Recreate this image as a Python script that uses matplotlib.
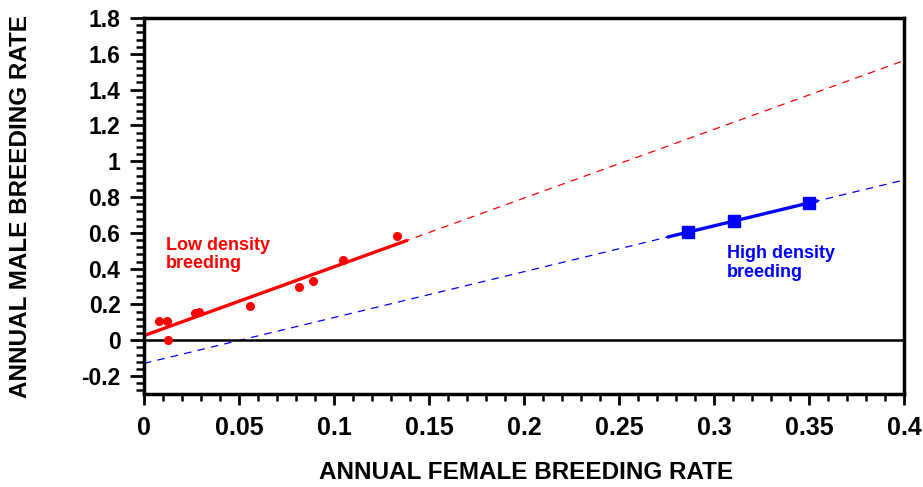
import numpy as np
import matplotlib
matplotlib.use("Agg")
import matplotlib.pyplot as plt
from matplotlib.ticker import MultipleLocator, FuncFormatter

# low density breeding (red dots)
low_female = [0.008, 0.012, 0.0126, 0.0268, 0.029, 0.0557, 0.0815, 0.0888, 0.1046, 0.133]
low_male = [0.11, 0.11, 0.0, 0.15, 0.16, 0.19, 0.30, 0.33, 0.45, 0.58]

# high density breeding (blue squares)
high_female = [0.2865, 0.3107, 0.350]
high_male = [0.606, 0.664, 0.768]

plt.rcParams['font.family'] = ['Liberation Sans', 'DejaVu Sans']

fig = plt.figure(figsize=(9.23, 4.87), dpi=100)
ax = fig.add_axes([0.156, 0.191, 0.8234, 0.772])

# regression lines
b_low = np.polyfit(low_female, low_male, 1)
b_high = np.polyfit(high_female, high_male, 1)

xs = np.array([0, 0.4])
ax.plot(xs, np.polyval(b_low, xs), color='red', lw=0.9, ls=(0, (6, 5)))
ax.plot(xs, np.polyval(b_high, xs), color='blue', lw=0.9, ls=(0, (6, 5)))

xl = np.array([0, 0.138])
ax.plot(xl, np.polyval(b_low, xl), color='red', lw=2.4)
xh = np.array([0.276, 0.354])
ax.plot(xh, np.polyval(b_high, xh), color='blue', lw=2.4)

ax.plot(low_female, low_male, 'o', color='red', ms=5.5, zorder=5)
ax.plot(high_female, high_male, 's', color='blue', ms=8, zorder=5)

ax.axhline(0, color='black', lw=1.8)

ax.text(0.0116, 0.578, 'Low density\nbreeding', color='red', fontsize=13,
        fontweight='bold', va='top', ha='left', linespacing=1.1)
ax.text(0.307, 0.53, 'High density\nbreeding', color='blue', fontsize=13,
        fontweight='bold', va='top', ha='left', linespacing=1.1)

ax.set_xlim(0, 0.4)
ax.set_ylim(-0.3, 1.8)
ax.xaxis.set_major_locator(MultipleLocator(0.05))
ax.xaxis.set_minor_locator(MultipleLocator(0.01))
ax.yaxis.set_major_locator(MultipleLocator(0.2))
ax.yaxis.set_minor_locator(MultipleLocator(0.04))

fmt = FuncFormatter(lambda v, p: ('%g' % round(v, 3)))
ax.xaxis.set_major_formatter(fmt)
ax.yaxis.set_major_formatter(fmt)

ax.tick_params(axis='y', which='major', direction='out', length=10, width=2, pad=7, labelsize=16.5)
ax.tick_params(axis='y', which='minor', direction='out', length=6, width=1.8)
ax.tick_params(axis='x', which='major', direction='out', length=8, width=2, pad=8, labelsize=18)
ax.tick_params(axis='x', which='minor', direction='out', length=5, width=1.8)
for lab in ax.get_xticklabels() + ax.get_yticklabels():
    lab.set_fontweight('bold')

for s in ax.spines.values():
    s.set_linewidth(2.5)

fig.text(526 / 923, 1 - 479 / 487, 'ANNUAL FEMALE BREEDING RATE', fontsize=17.5,
         fontweight='bold', ha='center', va='baseline')
fig.text(21 / 923, 1 - 207 / 487, 'ANNUAL MALE BREEDING RATE', fontsize=17.5,
         fontweight='bold', ha='center', va='center', rotation=90)

fig.savefig('out.png', dpi=100)
